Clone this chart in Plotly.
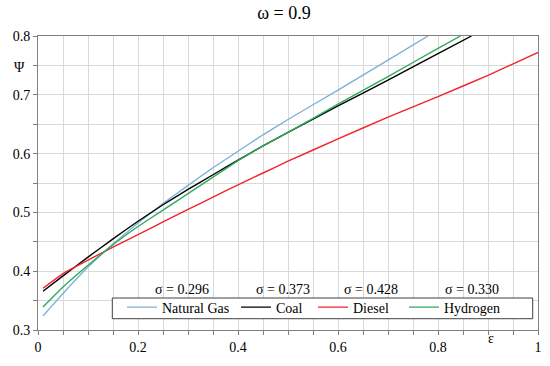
import plotly.graph_objects as go

# ---- data ----
x_ng = [0.01, 0.05, 0.1, 0.15, 0.2, 0.25, 0.3, 0.35, 0.4, 0.45, 0.5, 0.6, 0.7, 0.78]
y_ng = [0.324, 0.362, 0.407, 0.446, 0.482, 0.515, 0.546, 0.576, 0.604, 0.632, 0.658, 0.708, 0.759, 0.8]

x_coal = [0.01, 0.05, 0.1, 0.15, 0.2, 0.25, 0.3, 0.35, 0.4, 0.45, 0.5, 0.6, 0.7, 0.8, 0.867]
y_coal = [0.366, 0.392, 0.424, 0.455, 0.485, 0.513, 0.539, 0.564, 0.589, 0.613, 0.636, 0.681, 0.725, 0.770, 0.8]

x_diesel = [0.01, 0.05, 0.1, 0.15, 0.2, 0.25, 0.3, 0.35, 0.4, 0.45, 0.5, 0.6, 0.7, 0.8, 0.9, 1.0]
y_diesel = [0.371, 0.396, 0.419, 0.441, 0.462, 0.484, 0.505, 0.526, 0.547, 0.567, 0.587, 0.625, 0.662, 0.697, 0.733, 0.772]

x_h2 = [0.01, 0.05, 0.1, 0.15, 0.2, 0.25, 0.3, 0.35, 0.4, 0.45, 0.5, 0.6, 0.7, 0.8, 0.845]
y_h2 = [0.339, 0.373, 0.410, 0.445, 0.476, 0.504, 0.532, 0.560, 0.588, 0.613, 0.636, 0.684, 0.731, 0.779, 0.8]

names = ["Natural Gas", "Coal", "Diesel", "Hydrogen"]
colors = ["#7fb0d6", "#000000", "#f0252d", "#2eaa5c"]
sigma = [0.296, 0.373, 0.428, 0.330]

x_ticks = [0, 0.2, 0.4, 0.6, 0.8, 1]
y_ticks = [0.3, 0.4, 0.5, 0.6, 0.7, 0.8]

# layout positions (paper fractions)
sigma_xpos = [0.288, 0.490, 0.665, 0.867]
legend_xpos = [0.168, 0.396, 0.550, 0.732]

FONT = "Liberation Serif"

fig = go.Figure()
series = zip([x_ng, x_coal, x_diesel, x_h2], [y_ng, y_coal, y_diesel, y_h2], names, colors)
for i, (xs, ys, nm, c) in enumerate(series):
    lg = "legend" if i == 0 else f"legend{i + 1}"
    fig.add_trace(go.Scatter(x=xs, y=ys, mode="lines", name=nm, legend=lg,
                             line=dict(color=c, width=1.4, shape="spline", smoothing=0.3)))

for s, xp in zip(sigma, sigma_xpos):
    fig.add_annotation(text=f"σ = {s:.3f}", x=xp, y=0.137, xref="paper", yref="paper",
                       xanchor="center", yanchor="middle", showarrow=False,
                       font=dict(family=FONT, size=14, color="#000"))

fig.add_annotation(text="Ψ", x=-0.037, y=0.747, xref="paper", yref="y", xanchor="center",
                   showarrow=False, font=dict(family=FONT, size=14, color="#000"))
fig.add_annotation(text="ε", x=0.905, y=-0.06, xref="x", yref="paper", xanchor="center",
                   showarrow=False, font=dict(family=FONT, size=14, color="#000"))

# legend frame
fig.add_shape(type="rect", xref="paper", yref="paper", x0=0.1486, x1=0.9894, y0=0.0384, y1=0.1088,
              line=dict(color="#404040", width=1), fillcolor="white", layer="above")

axis_common = dict(showgrid=True, gridcolor="#d9d9d9", gridwidth=1, zeroline=False,
                   showline=True, linecolor="#808080", linewidth=1, mirror=True,
                   ticks="outside", ticklen=4, tickcolor="#808080", automargin=False,
                   tickfont=dict(family=FONT, size=14, color="#000"))

legend_common = dict(orientation="h", xanchor="left", y=0.0765, yanchor="middle",
                     bgcolor="rgba(0,0,0,0)", borderwidth=0,
                     font=dict(family=FONT, size=14, color="#000"))

fig.update_layout(
    width=550, height=366,
    margin=dict(l=38, r=12, t=36, b=36),
    paper_bgcolor="white", plot_bgcolor="white",
    font=dict(family=FONT, size=14, color="#000"),
    title=dict(text="ω = 0.9", x=0.492, xref="paper", xanchor="center", y=0.964, yanchor="middle",
               font=dict(family=FONT, size=18, color="#000")),
    xaxis=dict(range=[0, 1], tickvals=x_ticks, ticktext=["0", "0.2", "0.4", "0.6", "0.8", "1"],
               minor=dict(dtick=0.05, tick0=0, showgrid=True, gridcolor="#d9d9d9", ticks="outside", ticklen=4, tickcolor="#808080"),
               **axis_common),
    yaxis=dict(range=[0.3, 0.8], tickvals=y_ticks, ticktext=[f"{v:.1f}" for v in y_ticks],
               minor=dict(dtick=0.05, tick0=0.3, showgrid=True, gridcolor="#d9d9d9", ticks="outside", ticklen=4, tickcolor="#808080"),
               **axis_common),
    showlegend=True,
    legend=dict(x=legend_xpos[0], **legend_common),
    legend2=dict(x=legend_xpos[1], **legend_common),
    legend3=dict(x=legend_xpos[2], **legend_common),
    legend4=dict(x=legend_xpos[3], **legend_common),
)

fig.write_html("out.html", config={"displayModeBar": False},
               post_script="document.body.style.margin='0';")
